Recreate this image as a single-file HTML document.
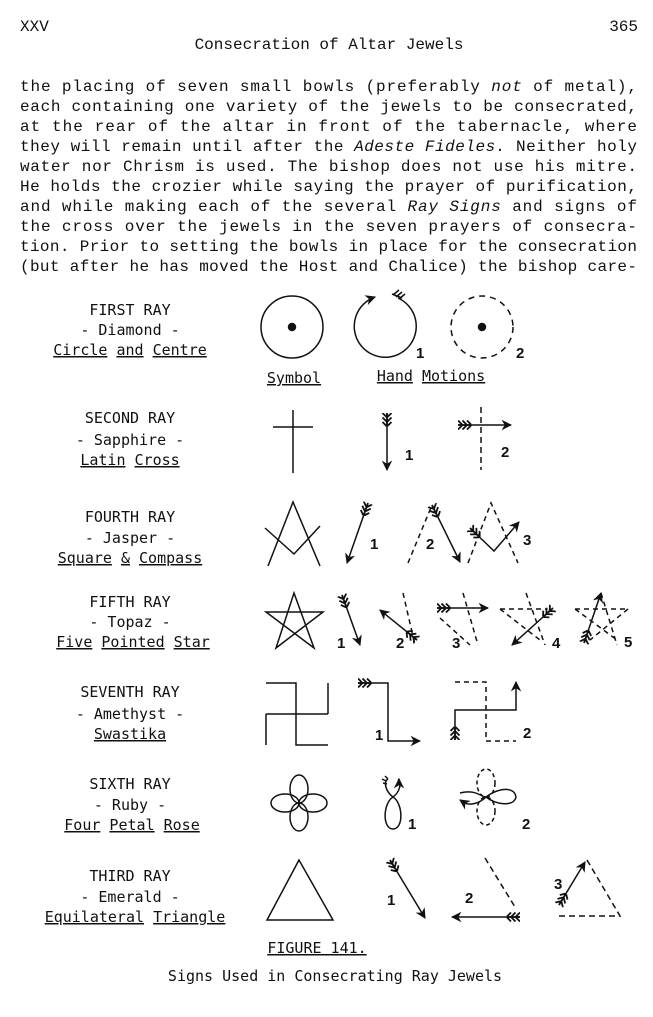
<!DOCTYPE html>
<html><head><meta charset="utf-8"><style>
html,body{margin:0;padding:0;background:#fff}
svg{display:block}
.b{font-family:"Liberation Mono",monospace;font-size:16px;fill:#111}
.l{font-family:"DejaVu Sans Mono","Liberation Mono",monospace;font-size:15px;fill:#111}
.n{font-family:"Liberation Sans",sans-serif;font-size:15px;font-weight:bold;fill:#111}
.u{text-decoration:underline}
</style></head><body>
<svg width="653" height="1017" viewBox="0 0 653 1017" xmlns="http://www.w3.org/2000/svg">
<defs>
<marker id="ah" viewBox="0 0 10 10" refX="9" refY="5" markerWidth="7" markerHeight="7" orient="auto-start-reverse"><path d="M0,0 L10,5 L0,10 L3,5z" fill="#111"/></marker>
<marker id="ft" viewBox="0 0 12 10" refX="0" refY="5" markerWidth="9" markerHeight="8" orient="auto"><path d="M0,1 L4,5 L0,9 M4,1 L8,5 L4,9 M8,1 L12,5 L8,9 M0,5 L12,5" stroke="#111" stroke-width="1.6" fill="none"/></marker>
</defs>
<g class="b">
<text x="20" y="31">XXV</text>
<text x="638" y="31" text-anchor="end">365</text>
<text x="329" y="49" text-anchor="middle">Consecration of Altar Jewels</text>
<text x="20" y="91" textLength="617" lengthAdjust="spacing">the placing  of  seven  small bowls (preferably <tspan font-style="italic">not</tspan> of metal),</text>
<text x="20" y="111" textLength="617" lengthAdjust="spacing">each containing one variety  of  the jewels to be consecrated,</text>
<text x="20" y="131" textLength="617" lengthAdjust="spacing">at the rear  of  the altar in front  of  the tabernacle, where</text>
<text x="20" y="151" textLength="617" lengthAdjust="spacing">they will remain until after the <tspan font-style="italic">Adeste Fideles.</tspan>  Neither holy</text>
<text x="20" y="171" textLength="617" lengthAdjust="spacing">water nor Chrism is used.  The bishop  does not use his mitre.</text>
<text x="20" y="191" textLength="617" lengthAdjust="spacing">He holds the crozier  while saying the prayer of purification,</text>
<text x="20" y="211" textLength="617" lengthAdjust="spacing">and while making each  of  the several <tspan font-style="italic">Ray Signs</tspan> and  signs of</text>
<text x="20" y="231" textLength="617" lengthAdjust="spacing">the cross  over  the jewels  in the seven prayers of consecra-</text>
<text x="20" y="251" textLength="617" lengthAdjust="spacing">tion. Prior to setting the bowls in place for the consecration</text>
<text x="20" y="271" textLength="617" lengthAdjust="spacing">(but after he has moved the Host and Chalice) the bishop care-</text>
</g>
<g class="l" text-anchor="middle">
<text x="130" y="315">FIRST RAY</text><text x="130" y="335">- Diamond -</text>
<text x="130" y="355"><tspan class="u">Circle</tspan> <tspan class="u">and</tspan> <tspan class="u">Centre</tspan></text>
<text x="130" y="423">SECOND RAY</text><text x="130" y="445">- Sapphire -</text>
<text x="130" y="465"><tspan class="u">Latin</tspan>  <tspan class="u">Cross</tspan></text>
<text x="130" y="522">FOURTH RAY</text><text x="130" y="543">- Jasper -</text>
<text x="130" y="563"><tspan class="u">Square</tspan> <tspan class="u">&amp;</tspan> <tspan class="u">Compass</tspan></text>
<text x="130" y="607">FIFTH RAY</text><text x="130" y="627">- Topaz -</text>
<text x="133" y="647"><tspan class="u">Five</tspan> <tspan class="u">Pointed</tspan>  <tspan class="u">Star</tspan></text>
<text x="130" y="697">SEVENTH  RAY</text><text x="130" y="719">- Amethyst -</text>
<text x="130" y="739" class="u">Swastika</text>
<text x="130" y="789">SIXTH  RAY</text><text x="130" y="810">- Ruby -</text>
<text x="132" y="830"><tspan class="u">Four</tspan> <tspan class="u">Petal</tspan>  <tspan class="u">Rose</tspan></text>
<text x="130" y="881">THIRD RAY</text><text x="130" y="902">- Emerald -</text>
<text x="135" y="922"><tspan class="u">Equilateral</tspan> <tspan class="u">Triangle</tspan></text>
<text x="294" y="383" class="u">Symbol</text>
<text x="431" y="381"><tspan class="u">Hand</tspan> <tspan class="u">Motions</tspan></text>
<text x="317" y="953" class="u">FIGURE 141.</text>
<text x="335" y="981">Signs Used in Consecrating Ray Jewels</text>
</g>
<g class="n">
<text x="416" y="358">1</text><text x="516" y="358">2</text>
<text x="405" y="460">1</text><text x="501" y="457">2</text>
<text x="370" y="549">1</text><text x="426" y="549">2</text><text x="523" y="545">3</text>
<text x="337" y="648">1</text><text x="396" y="648">2</text><text x="452" y="648">3</text><text x="552" y="648">4</text><text x="624" y="647">5</text>
<text x="375" y="740">1</text><text x="523" y="738">2</text>
<text x="408" y="829">1</text><text x="522" y="829">2</text>
<text x="387" y="905">1</text><text x="465" y="903">2</text><text x="554" y="889">3</text>
</g>
<g stroke="#111" stroke-width="1.5" fill="none">
<circle cx="292" cy="327" r="31"/><circle cx="292" cy="327" r="3.5" fill="#111"/>
<path d="M398,298 A31,31 0 1 1 375,297" marker-end="url(#ah)"/>
<path d="M393,295 l6,-5 M396,297 l6,-5 M399,299 l6,-5 M392,294 l10,4"/>
<circle cx="482" cy="327" r="31" stroke-dasharray="6,5"/><circle cx="482" cy="327" r="3.5" fill="#111"/>
<path d="M293,410 V473 M273,427 H313"/>
<path d="M387,413 V470" marker-end="url(#ah)" marker-start="url(#ft)"/>
<path d="M481,407 V470" stroke-dasharray="6,4"/>
<path d="M458,425 H511" marker-end="url(#ah)" marker-start="url(#ft)"/>
<path d="M268,566 L293,502 L320,566 M265,528 L294,554 L320,526"/>
<path d="M368,503 L347,563" marker-end="url(#ah)" marker-start="url(#ft)"/>
<path d="M408,563 L432,505" stroke-dasharray="5,4"/>
<path d="M432,505 L460,562" marker-end="url(#ah)" marker-start="url(#ft)"/>
<path d="M468,563 L491,503 L518,563" stroke-dasharray="5,4"/>
<path d="M470,528 L494,551 L519,522" marker-end="url(#ah)" marker-start="url(#ft)"/>
<path d="M294,593 L314,648 L266,612 L323,612 L276,648 Z"/>
<path d="M342,595 L360,645" marker-end="url(#ah)" marker-start="url(#ft)"/>
<path d="M403,593 L415,645" stroke-dasharray="5,4"/>
<path d="M417,640 L380,610" marker-end="url(#ah)" marker-start="url(#ft)"/>
<path d="M463,593 L478,645 M440,618 L470,645" stroke-dasharray="5,4"/>
<path d="M437,608 L488,608" marker-end="url(#ah)" marker-start="url(#ft)"/>
<path d="M500,609 L547,609 M526,593 L545,645 M500,609 L540,640" stroke-dasharray="5,4"/>
<path d="M553,608 L512,645" marker-end="url(#ah)" marker-start="url(#ft)"/>
<path d="M575,609 L628,609 M601,593 L617,645 M575,609 L617,640 M628,609 L590,640" stroke-dasharray="5,4"/>
<path d="M584,643 L601,593" marker-end="url(#ah)" marker-start="url(#ft)"/>
<path d="M266,683 H296 V745 H328 M266,714 H328 M328,683 V714 M266,714 V745"/>
<path d="M358,683 H388 V741 H420" marker-end="url(#ah)" marker-start="url(#ft)"/>
<path d="M455,682 H486 V741 H516" stroke-dasharray="5,4"/>
<path d="M455,740 V710 H516 V682" marker-end="url(#ah)" marker-start="url(#ft)"/>
<g transform="translate(299,803)">
<ellipse cx="0" cy="-14" rx="9" ry="14"/><ellipse cx="0" cy="14" rx="9" ry="14"/>
<ellipse cx="-14" cy="0" rx="14" ry="9"/><ellipse cx="14" cy="0" rx="14" ry="9"/>
</g>
<path d="M393,797 C386,792 383,782 388,779 M393,797 C400,792 402,782 398,779" />
<path d="M388,779 l-3,-3 M386,781 l-4,-2 M387,784 l-4,-1"/>
<path d="M399,784 L399,779" marker-end="url(#ah)"/>
<path d="M393,797 C383,803 382,829 393,829 C404,829 403,803 393,797"/>
<g transform="translate(486,797)">
<ellipse cx="0" cy="-14" rx="9" ry="14" stroke-dasharray="4,3"/><ellipse cx="0" cy="14" rx="9" ry="14" stroke-dasharray="4,3"/>
<path d="M-26,-4 C-10,-8 -5,0 0,0 C10,-8 28,-12 30,0 C28,10 10,8 0,0 C-5,5 -15,10 -24,5"/>
</g>
<path d="M463,802 l-3,-2" marker-end="url(#ah)"/>
<path d="M299,860 L267,920 L333,920 Z"/>
<path d="M390,860 L425,918" marker-end="url(#ah)" marker-start="url(#ft)"/>
<path d="M485,858 L515,907" stroke-dasharray="6,4"/>
<path d="M520,917 L452,917" marker-end="url(#ah)" marker-start="url(#ft)"/>
<path d="M587,860 L620,916 L559,916" stroke-dasharray="6,4"/>
<path d="M559,905 L585,862" marker-end="url(#ah)" marker-start="url(#ft)"/>
</g>
</svg>
</body></html>
